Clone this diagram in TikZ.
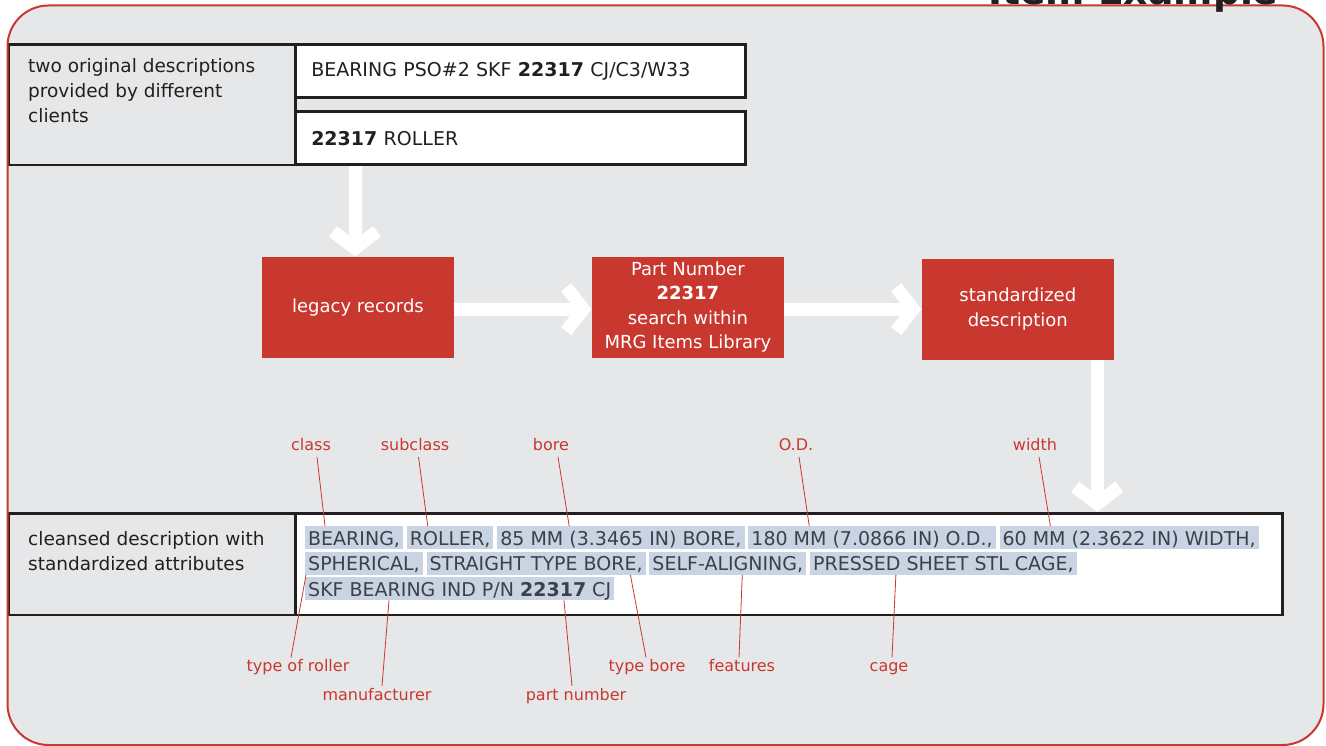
\documentclass[tikz,border=0pt]{standalone}
\usepackage{fontspec}
\setmainfont{DejaVu Sans}
\usetikzlibrary{positioning,arrows.meta}
\definecolor{mrgred}{HTML}{C9382E}
\definecolor{bggray}{HTML}{E6E7E9}
\definecolor{hlblue}{HTML}{C8D3E3}
\definecolor{inkgray}{HTML}{3D4047}
\definecolor{boxline}{HTML}{231F20}
\begin{document}
\begin{tikzpicture}[x=1pt,y=-1pt,
		gbox/.style={draw=boxline,line width=2.5pt,fill=bggray,anchor=north west,inner sep=0,minimum width=286.5pt},
		wbox/.style={draw=boxline,line width=2.5pt,fill=white,anchor=north west,minimum width=450pt,minimum height=53pt,text width=418pt,inner xsep=16pt,inner ysep=0pt,align=left,text=boxline,font=\fontsize{19}{25}\selectfont},
		lbl/.style={anchor=north west,inner sep=0,align=left,text=boxline,font=\fontsize{18.5}{25}\selectfont},
		rbox/.style={fill=mrgred,text=white,minimum width=192.5pt,minimum height=101pt,align=center,inner sep=0,font=\fontsize{18}{24.5}\selectfont},
		chunk/.style={fill=hlblue,text=inkgray,inner xsep=3pt,inner ysep=3pt,text height=16pt,text depth=1pt,font=\fontsize{19}{25}\selectfont},
		tag/.style={text=mrgred,anchor=base,inner sep=2pt,text height=12pt,text depth=4pt,font=\fontsize{16}{18}\selectfont},
		lead/.style={draw=mrgred,line width=0.8pt},
		warrow/.style={draw=white,line width=13pt,-{Straight Barb[length=17pt,width=44pt]}}]
				\useasboundingbox (0,0) rectangle (1326,746)
				;
				\fill[bggray] (7.5,5.5) [rounded corners=41pt] rectangle (1323.5,745)
				;
				\node[rbox] (legacy) at (358,307.2) {legacy records};
				\node[rbox,right=137pt of legacy] (search) {Part Number\\\textbf{22317}\\search within\\MRG Items Library};
				\node[rbox,right=137pt of search,yshift=-2pt] (std) {standardized\\description};
				\node[gbox,minimum height=120.5pt] (orig) at (7.5,43.5) {};
				\node[wbox] (desc1) at (294,43.5) {BEARING PSO\#2 SKF \textbf{22317} CJ/C3/W33};
				\node[wbox,below=11.5pt of desc1] (desc2) {\textbf{22317} ROLLER};
				\node[gbox,minimum height=101.5pt] (clab) at (7.5,512) {};
				\node[wbox,minimum width=987pt,minimum height=101.5pt,text width=955pt] (clean) at (294,512) {};
				\node[lbl] (origtxt) at (28,58.3) {two original descriptions\\provided by different\\clients};
				\node[lbl] (cleantxt) at (28,531) {cleansed description with\\standardized attributes};
				\path
				([xshift=-3pt]legacy.north) coordinate (land)
				([xshift=-17pt]std.south east) coordinate (drop)
				;
				\draw[warrow] (land |- desc2.south) -- (land)
				;
				\draw[warrow] (legacy.east |- std.west) -- (search.west |- std.west)
				;
				\draw[warrow] (search.east |- std.west) -- (std.west)
				;
				\draw[warrow] (drop) -- (drop |- clean.north)
				;
				\node[chunk,anchor=north west] (l1a) at (305,526) {BEARING,};
				\node[chunk,right=3.5pt of l1a] (l1b) {ROLLER,};
				\node[chunk,right=3.5pt of l1b] (l1c) {85 MM (3.3465 IN) BORE,};
				\node[chunk,right=3.5pt of l1c] (l1d) {180 MM (7.0866 IN) O.D.,};
				\node[chunk,right=3.5pt of l1d] (l1e) {60 MM (2.3622 IN) WIDTH,};
				\node[chunk,anchor=north west] (l2a) at (305,551.5) {SPHERICAL,};
				\node[chunk,right=3.5pt of l2a] (l2b) {STRAIGHT TYPE BORE,};
				\node[chunk,right=3.5pt of l2b] (l2c) {SELF-ALIGNING,};
				\node[chunk,right=3.5pt of l2c] (l2d) {PRESSED SHEET STL CAGE,};
				\node[chunk,anchor=north west] (l3a) at (305,577) {SKF BEARING IND P/N \textbf{22317} CJ};
				\foreach \n/\t/\x in {tclass/class/311, tsub/subclass/415, tbore/bore/551, tod/O.D./796, twidth/width/1035}
				\node[tag] (\n) at (\x,450.7) {\t}
				;
				\foreach \n/\t/\x in {troller/type of roller/298, ttype/type bore/647, tfeat/features/742, tcage/cage/889}
				\node[tag] (\n) at (\x,671.7) {\t}
				;
				\foreach \n/\t/\x in {tmanu/manufacturer/377, tpart/part number/576}
				\node[tag] (\n) at (\x,700) {\t}
				;
				\foreach \n/\d/\c/\e in {tclass/6/l1a/20, tsub/3.5/l1b/21, tbore/7/l1c/72, tod/3/l1d/61, twidth/4/l1e/51}
				\draw[lead] ([xshift=\d]\n.south) -- ([xshift=\e]\c.north west)
				;
				\foreach \n/\d/\c/\e in {troller/-7/l2a/1, tmanu/5/l3a/84, tpart/-4/l3a/259, ttype/-1/l2b/204, tfeat/-3/l2c/93, tcage/3/l2d/86}
				\draw[lead] ([xshift=\d]\n.north) -- ([xshift=\e]\c.south west)
				;
				\draw[mrgred,line width=2pt] (7.5,5.5) [rounded corners=41pt] rectangle (1323.5,745)
				;
				\node[anchor=base west,inner sep=0,text=boxline,font=\fontsize{37.7}{40}\selectfont\bfseries] (title) at (988,4.5) {Item Example};
\end{tikzpicture}
\end{document}
